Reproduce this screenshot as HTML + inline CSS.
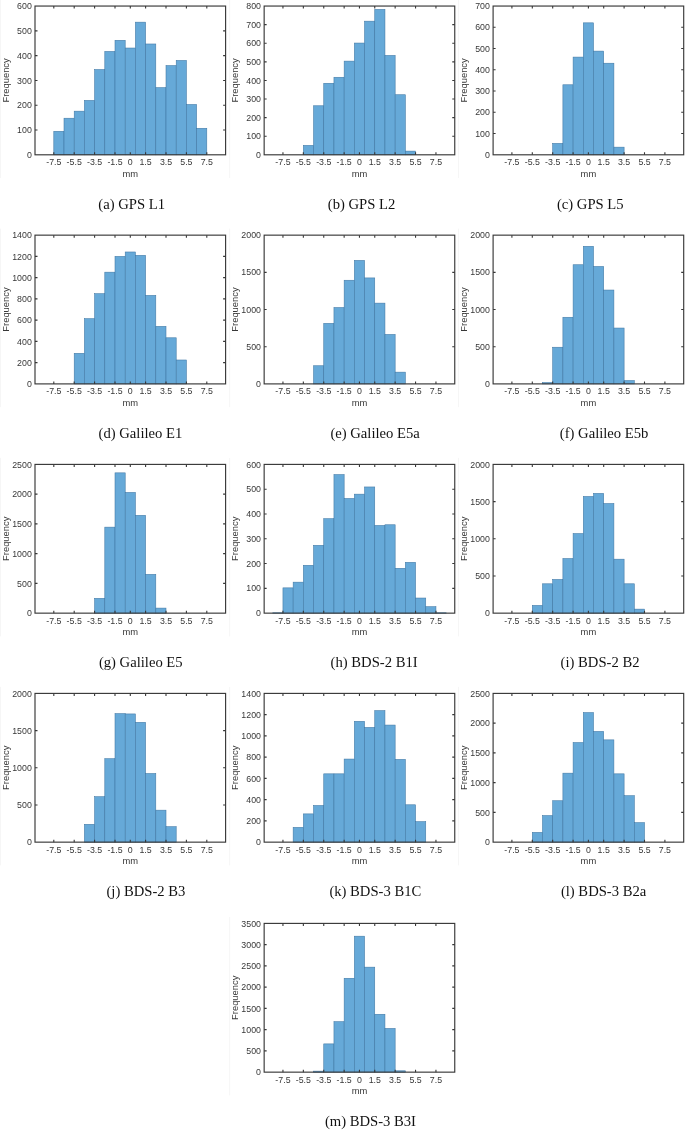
<!DOCTYPE html>
<html><head><meta charset="utf-8"><title>Histograms</title>
<style>html,body{margin:0;padding:0;background:#fff}body{width:685px;height:1146px;overflow:hidden;position:relative}svg{position:absolute;left:0;top:0;display:block;will-change:transform}text{font-family:"Liberation Sans",sans-serif}.cap{font-family:"Liberation Serif",serif}</style>
</head><body>
<svg width="685" height="1146" viewBox="0 0 685 1146">
<rect x="0" y="0" width="685" height="1146" fill="#ffffff"/>
<g id="chart-a">
<line x1="0.5" y1="0" x2="0.5" y2="178.05" stroke="#f6f6f6" stroke-width="1"/>
<rect x="53.8" y="131.3" width="10.2" height="23.5" fill="#66a9d8" stroke="#3f76a3" stroke-width="0.55"/>
<rect x="64" y="118.21" width="10.2" height="36.59" fill="#66a9d8" stroke="#3f76a3" stroke-width="0.55"/>
<rect x="74.2" y="111.17" width="10.2" height="43.63" fill="#66a9d8" stroke="#3f76a3" stroke-width="0.55"/>
<rect x="84.4" y="100.41" width="10.2" height="54.39" fill="#66a9d8" stroke="#3f76a3" stroke-width="0.55"/>
<rect x="94.6" y="69.52" width="10.2" height="85.28" fill="#66a9d8" stroke="#3f76a3" stroke-width="0.55"/>
<rect x="104.8" y="51.42" width="10.2" height="103.38" fill="#66a9d8" stroke="#3f76a3" stroke-width="0.55"/>
<rect x="115" y="40.29" width="10.2" height="114.51" fill="#66a9d8" stroke="#3f76a3" stroke-width="0.55"/>
<rect x="125.2" y="48.02" width="10.2" height="106.78" fill="#66a9d8" stroke="#3f76a3" stroke-width="0.55"/>
<rect x="135.4" y="22.16" width="10.2" height="132.64" fill="#66a9d8" stroke="#3f76a3" stroke-width="0.55"/>
<rect x="145.6" y="43.98" width="10.2" height="110.82" fill="#66a9d8" stroke="#3f76a3" stroke-width="0.55"/>
<rect x="155.8" y="87.61" width="10.2" height="67.19" fill="#66a9d8" stroke="#3f76a3" stroke-width="0.55"/>
<rect x="166" y="65.55" width="10.2" height="89.25" fill="#66a9d8" stroke="#3f76a3" stroke-width="0.55"/>
<rect x="176.2" y="60.44" width="10.2" height="94.36" fill="#66a9d8" stroke="#3f76a3" stroke-width="0.55"/>
<rect x="186.4" y="104.47" width="10.2" height="50.33" fill="#66a9d8" stroke="#3f76a3" stroke-width="0.55"/>
<rect x="196.6" y="128.27" width="10.2" height="26.53" fill="#66a9d8" stroke="#3f76a3" stroke-width="0.55"/>
<path d="M53.8 154.8v-2.5M53.8 6.05v2.5M74.2 154.8v-2.5M74.2 6.05v2.5M94.6 154.8v-2.5M94.6 6.05v2.5M115 154.8v-2.5M115 6.05v2.5M130.3 154.8v-2.5M130.3 6.05v2.5M145.6 154.8v-2.5M145.6 6.05v2.5M166 154.8v-2.5M166 6.05v2.5M186.4 154.8v-2.5M186.4 6.05v2.5M206.8 154.8v-2.5M206.8 6.05v2.5M35 130.01h2.5M225.6 130.01h-2.5M35 105.22h2.5M225.6 105.22h-2.5M35 80.43h2.5M225.6 80.43h-2.5M35 55.63h2.5M225.6 55.63h-2.5M35 30.84h2.5M225.6 30.84h-2.5" stroke="#383838" stroke-width="1.1" fill="none"/>
<rect x="35" y="6.05" width="190.6" height="148.75" fill="none" stroke="#383838" stroke-width="1.15"/>
<text x="31.8" y="157.9" font-size="8.8" fill="#383838" text-anchor="end">0</text>
<text x="31.8" y="133.11" font-size="8.8" fill="#383838" text-anchor="end">100</text>
<text x="31.8" y="108.32" font-size="8.8" fill="#383838" text-anchor="end">200</text>
<text x="31.8" y="83.53" font-size="8.8" fill="#383838" text-anchor="end">300</text>
<text x="31.8" y="58.73" font-size="8.8" fill="#383838" text-anchor="end">400</text>
<text x="31.8" y="33.94" font-size="8.8" fill="#383838" text-anchor="end">500</text>
<text x="31.8" y="9.15" font-size="8.8" fill="#383838" text-anchor="end">600</text>
<text x="53.8" y="165.35" font-size="8.8" fill="#383838" text-anchor="middle">-7.5</text>
<text x="74.2" y="165.35" font-size="8.8" fill="#383838" text-anchor="middle">-5.5</text>
<text x="94.6" y="165.35" font-size="8.8" fill="#383838" text-anchor="middle">-3.5</text>
<text x="115" y="165.35" font-size="8.8" fill="#383838" text-anchor="middle">-1.5</text>
<text x="130.3" y="165.35" font-size="8.8" fill="#383838" text-anchor="middle">0</text>
<text x="145.6" y="165.35" font-size="8.8" fill="#383838" text-anchor="middle">1.5</text>
<text x="166" y="165.35" font-size="8.8" fill="#383838" text-anchor="middle">3.5</text>
<text x="186.4" y="165.35" font-size="8.8" fill="#383838" text-anchor="middle">5.5</text>
<text x="206.8" y="165.35" font-size="8.8" fill="#383838" text-anchor="middle">7.5</text>
<text x="130.3" y="176.8" font-size="9.4" fill="#383838" text-anchor="middle">mm</text>
<text transform="translate(9 80.42) rotate(-90)" font-size="9.4" fill="#383838" text-anchor="middle">Frequency</text>
<text class="cap" x="131.7" y="209" font-size="14.65" fill="#111111" text-anchor="middle">(a) GPS L1</text>
</g>
<g id="chart-b">
<line x1="229.65" y1="-0.45" x2="229.65" y2="178.05" stroke="#f6f6f6" stroke-width="1"/>
<rect x="303.35" y="145.39" width="10.2" height="9.41" fill="#66a9d8" stroke="#3f76a3" stroke-width="0.55"/>
<rect x="313.55" y="105.77" width="10.2" height="49.03" fill="#66a9d8" stroke="#3f76a3" stroke-width="0.55"/>
<rect x="323.75" y="83.27" width="10.2" height="71.53" fill="#66a9d8" stroke="#3f76a3" stroke-width="0.55"/>
<rect x="333.95" y="77.26" width="10.2" height="77.54" fill="#66a9d8" stroke="#3f76a3" stroke-width="0.55"/>
<rect x="344.15" y="61.12" width="10.2" height="93.68" fill="#66a9d8" stroke="#3f76a3" stroke-width="0.55"/>
<rect x="354.35" y="43.05" width="10.2" height="111.75" fill="#66a9d8" stroke="#3f76a3" stroke-width="0.55"/>
<rect x="364.55" y="21.17" width="10.2" height="133.63" fill="#66a9d8" stroke="#3f76a3" stroke-width="0.55"/>
<rect x="374.75" y="9.4" width="10.2" height="145.4" fill="#66a9d8" stroke="#3f76a3" stroke-width="0.55"/>
<rect x="384.95" y="55.42" width="10.2" height="99.38" fill="#66a9d8" stroke="#3f76a3" stroke-width="0.55"/>
<rect x="395.15" y="94.74" width="10.2" height="60.06" fill="#66a9d8" stroke="#3f76a3" stroke-width="0.55"/>
<rect x="405.35" y="151.1" width="10.2" height="3.7" fill="#66a9d8" stroke="#3f76a3" stroke-width="0.55"/>
<path d="M282.95 154.8v-2.5M282.95 6.05v2.5M303.35 154.8v-2.5M303.35 6.05v2.5M323.75 154.8v-2.5M323.75 6.05v2.5M344.15 154.8v-2.5M344.15 6.05v2.5M359.45 154.8v-2.5M359.45 6.05v2.5M374.75 154.8v-2.5M374.75 6.05v2.5M395.15 154.8v-2.5M395.15 6.05v2.5M415.55 154.8v-2.5M415.55 6.05v2.5M435.95 154.8v-2.5M435.95 6.05v2.5M264.15 136.21h2.5M454.75 136.21h-2.5M264.15 117.61h2.5M454.75 117.61h-2.5M264.15 99.02h2.5M454.75 99.02h-2.5M264.15 80.43h2.5M454.75 80.43h-2.5M264.15 61.83h2.5M454.75 61.83h-2.5M264.15 43.24h2.5M454.75 43.24h-2.5M264.15 24.64h2.5M454.75 24.64h-2.5" stroke="#383838" stroke-width="1.1" fill="none"/>
<rect x="264.15" y="6.05" width="190.6" height="148.75" fill="none" stroke="#383838" stroke-width="1.15"/>
<text x="260.95" y="157.9" font-size="8.8" fill="#383838" text-anchor="end">0</text>
<text x="260.95" y="139.31" font-size="8.8" fill="#383838" text-anchor="end">100</text>
<text x="260.95" y="120.71" font-size="8.8" fill="#383838" text-anchor="end">200</text>
<text x="260.95" y="102.12" font-size="8.8" fill="#383838" text-anchor="end">300</text>
<text x="260.95" y="83.53" font-size="8.8" fill="#383838" text-anchor="end">400</text>
<text x="260.95" y="64.93" font-size="8.8" fill="#383838" text-anchor="end">500</text>
<text x="260.95" y="46.34" font-size="8.8" fill="#383838" text-anchor="end">600</text>
<text x="260.95" y="27.74" font-size="8.8" fill="#383838" text-anchor="end">700</text>
<text x="260.95" y="9.15" font-size="8.8" fill="#383838" text-anchor="end">800</text>
<text x="282.95" y="165.35" font-size="8.8" fill="#383838" text-anchor="middle">-7.5</text>
<text x="303.35" y="165.35" font-size="8.8" fill="#383838" text-anchor="middle">-5.5</text>
<text x="323.75" y="165.35" font-size="8.8" fill="#383838" text-anchor="middle">-3.5</text>
<text x="344.15" y="165.35" font-size="8.8" fill="#383838" text-anchor="middle">-1.5</text>
<text x="359.45" y="165.35" font-size="8.8" fill="#383838" text-anchor="middle">0</text>
<text x="374.75" y="165.35" font-size="8.8" fill="#383838" text-anchor="middle">1.5</text>
<text x="395.15" y="165.35" font-size="8.8" fill="#383838" text-anchor="middle">3.5</text>
<text x="415.55" y="165.35" font-size="8.8" fill="#383838" text-anchor="middle">5.5</text>
<text x="435.95" y="165.35" font-size="8.8" fill="#383838" text-anchor="middle">7.5</text>
<text x="359.45" y="176.8" font-size="9.4" fill="#383838" text-anchor="middle">mm</text>
<text transform="translate(238.15 80.42) rotate(-90)" font-size="9.4" fill="#383838" text-anchor="middle">Frequency</text>
<text class="cap" x="361.55" y="209" font-size="14.65" fill="#111111" text-anchor="middle">(b) GPS L2</text>
</g>
<g id="chart-c">
<line x1="458.6" y1="-0.45" x2="458.6" y2="178.05" stroke="#f6f6f6" stroke-width="1"/>
<rect x="552.7" y="143.39" width="10.2" height="11.41" fill="#66a9d8" stroke="#3f76a3" stroke-width="0.55"/>
<rect x="562.9" y="84.78" width="10.2" height="70.02" fill="#66a9d8" stroke="#3f76a3" stroke-width="0.55"/>
<rect x="573.1" y="57.09" width="10.2" height="97.71" fill="#66a9d8" stroke="#3f76a3" stroke-width="0.55"/>
<rect x="583.3" y="22.84" width="10.2" height="131.96" fill="#66a9d8" stroke="#3f76a3" stroke-width="0.55"/>
<rect x="593.5" y="51.1" width="10.2" height="103.7" fill="#66a9d8" stroke="#3f76a3" stroke-width="0.55"/>
<rect x="603.7" y="63.21" width="10.2" height="91.59" fill="#66a9d8" stroke="#3f76a3" stroke-width="0.55"/>
<rect x="613.9" y="147.15" width="10.2" height="7.65" fill="#66a9d8" stroke="#3f76a3" stroke-width="0.55"/>
<path d="M511.9 154.8v-2.5M511.9 6.05v2.5M532.3 154.8v-2.5M532.3 6.05v2.5M552.7 154.8v-2.5M552.7 6.05v2.5M573.1 154.8v-2.5M573.1 6.05v2.5M588.4 154.8v-2.5M588.4 6.05v2.5M603.7 154.8v-2.5M603.7 6.05v2.5M624.1 154.8v-2.5M624.1 6.05v2.5M644.5 154.8v-2.5M644.5 6.05v2.5M664.9 154.8v-2.5M664.9 6.05v2.5M493.1 133.55h2.5M683.7 133.55h-2.5M493.1 112.3h2.5M683.7 112.3h-2.5M493.1 91.05h2.5M683.7 91.05h-2.5M493.1 69.8h2.5M683.7 69.8h-2.5M493.1 48.55h2.5M683.7 48.55h-2.5M493.1 27.3h2.5M683.7 27.3h-2.5" stroke="#383838" stroke-width="1.1" fill="none"/>
<rect x="493.1" y="6.05" width="190.6" height="148.75" fill="none" stroke="#383838" stroke-width="1.15"/>
<text x="489.9" y="157.9" font-size="8.8" fill="#383838" text-anchor="end">0</text>
<text x="489.9" y="136.65" font-size="8.8" fill="#383838" text-anchor="end">100</text>
<text x="489.9" y="115.4" font-size="8.8" fill="#383838" text-anchor="end">200</text>
<text x="489.9" y="94.15" font-size="8.8" fill="#383838" text-anchor="end">300</text>
<text x="489.9" y="72.9" font-size="8.8" fill="#383838" text-anchor="end">400</text>
<text x="489.9" y="51.65" font-size="8.8" fill="#383838" text-anchor="end">500</text>
<text x="489.9" y="30.4" font-size="8.8" fill="#383838" text-anchor="end">600</text>
<text x="489.9" y="9.15" font-size="8.8" fill="#383838" text-anchor="end">700</text>
<text x="511.9" y="165.35" font-size="8.8" fill="#383838" text-anchor="middle">-7.5</text>
<text x="532.3" y="165.35" font-size="8.8" fill="#383838" text-anchor="middle">-5.5</text>
<text x="552.7" y="165.35" font-size="8.8" fill="#383838" text-anchor="middle">-3.5</text>
<text x="573.1" y="165.35" font-size="8.8" fill="#383838" text-anchor="middle">-1.5</text>
<text x="588.4" y="165.35" font-size="8.8" fill="#383838" text-anchor="middle">0</text>
<text x="603.7" y="165.35" font-size="8.8" fill="#383838" text-anchor="middle">1.5</text>
<text x="624.1" y="165.35" font-size="8.8" fill="#383838" text-anchor="middle">3.5</text>
<text x="644.5" y="165.35" font-size="8.8" fill="#383838" text-anchor="middle">5.5</text>
<text x="664.9" y="165.35" font-size="8.8" fill="#383838" text-anchor="middle">7.5</text>
<text x="588.4" y="176.8" font-size="9.4" fill="#383838" text-anchor="middle">mm</text>
<text transform="translate(467.1 80.42) rotate(-90)" font-size="9.4" fill="#383838" text-anchor="middle">Frequency</text>
<text class="cap" x="590.3" y="209" font-size="14.65" fill="#111111" text-anchor="middle">(c) GPS L5</text>
</g>
<g id="chart-d">
<line x1="0.5" y1="228.65" x2="0.5" y2="407.15" stroke="#f6f6f6" stroke-width="1"/>
<rect x="74.2" y="353.3" width="10.2" height="30.6" fill="#66a9d8" stroke="#3f76a3" stroke-width="0.55"/>
<rect x="84.4" y="318.66" width="10.2" height="65.24" fill="#66a9d8" stroke="#3f76a3" stroke-width="0.55"/>
<rect x="94.6" y="293.69" width="10.2" height="90.21" fill="#66a9d8" stroke="#3f76a3" stroke-width="0.55"/>
<rect x="104.8" y="272.17" width="10.2" height="111.73" fill="#66a9d8" stroke="#3f76a3" stroke-width="0.55"/>
<rect x="115" y="256.4" width="10.2" height="127.5" fill="#66a9d8" stroke="#3f76a3" stroke-width="0.55"/>
<rect x="125.2" y="251.98" width="10.2" height="131.92" fill="#66a9d8" stroke="#3f76a3" stroke-width="0.55"/>
<rect x="135.4" y="255.34" width="10.2" height="128.56" fill="#66a9d8" stroke="#3f76a3" stroke-width="0.55"/>
<rect x="145.6" y="295.39" width="10.2" height="88.51" fill="#66a9d8" stroke="#3f76a3" stroke-width="0.55"/>
<rect x="155.8" y="326.35" width="10.2" height="57.55" fill="#66a9d8" stroke="#3f76a3" stroke-width="0.55"/>
<rect x="166" y="337.79" width="10.2" height="46.11" fill="#66a9d8" stroke="#3f76a3" stroke-width="0.55"/>
<rect x="176.2" y="359.99" width="10.2" height="23.91" fill="#66a9d8" stroke="#3f76a3" stroke-width="0.55"/>
<path d="M53.8 383.9v-2.5M53.8 235.15v2.5M74.2 383.9v-2.5M74.2 235.15v2.5M94.6 383.9v-2.5M94.6 235.15v2.5M115 383.9v-2.5M115 235.15v2.5M130.3 383.9v-2.5M130.3 235.15v2.5M145.6 383.9v-2.5M145.6 235.15v2.5M166 383.9v-2.5M166 235.15v2.5M186.4 383.9v-2.5M186.4 235.15v2.5M206.8 383.9v-2.5M206.8 235.15v2.5M35 362.65h2.5M225.6 362.65h-2.5M35 341.4h2.5M225.6 341.4h-2.5M35 320.15h2.5M225.6 320.15h-2.5M35 298.9h2.5M225.6 298.9h-2.5M35 277.65h2.5M225.6 277.65h-2.5M35 256.4h2.5M225.6 256.4h-2.5" stroke="#383838" stroke-width="1.1" fill="none"/>
<rect x="35" y="235.15" width="190.6" height="148.75" fill="none" stroke="#383838" stroke-width="1.15"/>
<text x="31.8" y="387" font-size="8.8" fill="#383838" text-anchor="end">0</text>
<text x="31.8" y="365.75" font-size="8.8" fill="#383838" text-anchor="end">200</text>
<text x="31.8" y="344.5" font-size="8.8" fill="#383838" text-anchor="end">400</text>
<text x="31.8" y="323.25" font-size="8.8" fill="#383838" text-anchor="end">600</text>
<text x="31.8" y="302" font-size="8.8" fill="#383838" text-anchor="end">800</text>
<text x="31.8" y="280.75" font-size="8.8" fill="#383838" text-anchor="end">1000</text>
<text x="31.8" y="259.5" font-size="8.8" fill="#383838" text-anchor="end">1200</text>
<text x="31.8" y="238.25" font-size="8.8" fill="#383838" text-anchor="end">1400</text>
<text x="53.8" y="394.45" font-size="8.8" fill="#383838" text-anchor="middle">-7.5</text>
<text x="74.2" y="394.45" font-size="8.8" fill="#383838" text-anchor="middle">-5.5</text>
<text x="94.6" y="394.45" font-size="8.8" fill="#383838" text-anchor="middle">-3.5</text>
<text x="115" y="394.45" font-size="8.8" fill="#383838" text-anchor="middle">-1.5</text>
<text x="130.3" y="394.45" font-size="8.8" fill="#383838" text-anchor="middle">0</text>
<text x="145.6" y="394.45" font-size="8.8" fill="#383838" text-anchor="middle">1.5</text>
<text x="166" y="394.45" font-size="8.8" fill="#383838" text-anchor="middle">3.5</text>
<text x="186.4" y="394.45" font-size="8.8" fill="#383838" text-anchor="middle">5.5</text>
<text x="206.8" y="394.45" font-size="8.8" fill="#383838" text-anchor="middle">7.5</text>
<text x="130.3" y="405.9" font-size="9.4" fill="#383838" text-anchor="middle">mm</text>
<text transform="translate(9 309.52) rotate(-90)" font-size="9.4" fill="#383838" text-anchor="middle">Frequency</text>
<text class="cap" x="140.45" y="438.3" font-size="14.65" fill="#111111" text-anchor="middle">(d) Galileo E1</text>
</g>
<g id="chart-e">
<line x1="229.65" y1="228.65" x2="229.65" y2="407.15" stroke="#f6f6f6" stroke-width="1"/>
<rect x="313.55" y="365.75" width="10.2" height="18.15" fill="#66a9d8" stroke="#3f76a3" stroke-width="0.55"/>
<rect x="323.75" y="323.36" width="10.2" height="60.54" fill="#66a9d8" stroke="#3f76a3" stroke-width="0.55"/>
<rect x="333.95" y="307.52" width="10.2" height="76.38" fill="#66a9d8" stroke="#3f76a3" stroke-width="0.55"/>
<rect x="344.15" y="280.24" width="10.2" height="103.66" fill="#66a9d8" stroke="#3f76a3" stroke-width="0.55"/>
<rect x="354.35" y="260.39" width="10.2" height="123.51" fill="#66a9d8" stroke="#3f76a3" stroke-width="0.55"/>
<rect x="364.55" y="277.92" width="10.2" height="105.98" fill="#66a9d8" stroke="#3f76a3" stroke-width="0.55"/>
<rect x="374.75" y="303.13" width="10.2" height="80.77" fill="#66a9d8" stroke="#3f76a3" stroke-width="0.55"/>
<rect x="384.95" y="334.44" width="10.2" height="49.46" fill="#66a9d8" stroke="#3f76a3" stroke-width="0.55"/>
<rect x="395.15" y="372.15" width="10.2" height="11.75" fill="#66a9d8" stroke="#3f76a3" stroke-width="0.55"/>
<path d="M282.95 383.9v-2.5M282.95 235.15v2.5M303.35 383.9v-2.5M303.35 235.15v2.5M323.75 383.9v-2.5M323.75 235.15v2.5M344.15 383.9v-2.5M344.15 235.15v2.5M359.45 383.9v-2.5M359.45 235.15v2.5M374.75 383.9v-2.5M374.75 235.15v2.5M395.15 383.9v-2.5M395.15 235.15v2.5M415.55 383.9v-2.5M415.55 235.15v2.5M435.95 383.9v-2.5M435.95 235.15v2.5M264.15 346.71h2.5M454.75 346.71h-2.5M264.15 309.52h2.5M454.75 309.52h-2.5M264.15 272.34h2.5M454.75 272.34h-2.5" stroke="#383838" stroke-width="1.1" fill="none"/>
<rect x="264.15" y="235.15" width="190.6" height="148.75" fill="none" stroke="#383838" stroke-width="1.15"/>
<text x="260.95" y="387" font-size="8.8" fill="#383838" text-anchor="end">0</text>
<text x="260.95" y="349.81" font-size="8.8" fill="#383838" text-anchor="end">500</text>
<text x="260.95" y="312.62" font-size="8.8" fill="#383838" text-anchor="end">1000</text>
<text x="260.95" y="275.44" font-size="8.8" fill="#383838" text-anchor="end">1500</text>
<text x="260.95" y="238.25" font-size="8.8" fill="#383838" text-anchor="end">2000</text>
<text x="282.95" y="394.45" font-size="8.8" fill="#383838" text-anchor="middle">-7.5</text>
<text x="303.35" y="394.45" font-size="8.8" fill="#383838" text-anchor="middle">-5.5</text>
<text x="323.75" y="394.45" font-size="8.8" fill="#383838" text-anchor="middle">-3.5</text>
<text x="344.15" y="394.45" font-size="8.8" fill="#383838" text-anchor="middle">-1.5</text>
<text x="359.45" y="394.45" font-size="8.8" fill="#383838" text-anchor="middle">0</text>
<text x="374.75" y="394.45" font-size="8.8" fill="#383838" text-anchor="middle">1.5</text>
<text x="395.15" y="394.45" font-size="8.8" fill="#383838" text-anchor="middle">3.5</text>
<text x="415.55" y="394.45" font-size="8.8" fill="#383838" text-anchor="middle">5.5</text>
<text x="435.95" y="394.45" font-size="8.8" fill="#383838" text-anchor="middle">7.5</text>
<text x="359.45" y="405.9" font-size="9.4" fill="#383838" text-anchor="middle">mm</text>
<text transform="translate(238.15 309.52) rotate(-90)" font-size="9.4" fill="#383838" text-anchor="middle">Frequency</text>
<text class="cap" x="375.1" y="438.3" font-size="14.65" fill="#111111" text-anchor="middle">(e) Galileo E5a</text>
</g>
<g id="chart-f">
<line x1="458.6" y1="228.65" x2="458.6" y2="407.15" stroke="#f6f6f6" stroke-width="1"/>
<rect x="542.5" y="382.56" width="10.2" height="1.34" fill="#66a9d8" stroke="#3f76a3" stroke-width="0.55"/>
<rect x="552.7" y="347.23" width="10.2" height="36.67" fill="#66a9d8" stroke="#3f76a3" stroke-width="0.55"/>
<rect x="562.9" y="317.26" width="10.2" height="66.64" fill="#66a9d8" stroke="#3f76a3" stroke-width="0.55"/>
<rect x="573.1" y="264.75" width="10.2" height="119.15" fill="#66a9d8" stroke="#3f76a3" stroke-width="0.55"/>
<rect x="583.3" y="246.31" width="10.2" height="137.59" fill="#66a9d8" stroke="#3f76a3" stroke-width="0.55"/>
<rect x="593.5" y="266.46" width="10.2" height="117.44" fill="#66a9d8" stroke="#3f76a3" stroke-width="0.55"/>
<rect x="603.7" y="290.04" width="10.2" height="93.86" fill="#66a9d8" stroke="#3f76a3" stroke-width="0.55"/>
<rect x="613.9" y="328.04" width="10.2" height="55.86" fill="#66a9d8" stroke="#3f76a3" stroke-width="0.55"/>
<rect x="624.1" y="380.55" width="10.2" height="3.35" fill="#66a9d8" stroke="#3f76a3" stroke-width="0.55"/>
<path d="M511.9 383.9v-2.5M511.9 235.15v2.5M532.3 383.9v-2.5M532.3 235.15v2.5M552.7 383.9v-2.5M552.7 235.15v2.5M573.1 383.9v-2.5M573.1 235.15v2.5M588.4 383.9v-2.5M588.4 235.15v2.5M603.7 383.9v-2.5M603.7 235.15v2.5M624.1 383.9v-2.5M624.1 235.15v2.5M644.5 383.9v-2.5M644.5 235.15v2.5M664.9 383.9v-2.5M664.9 235.15v2.5M493.1 346.71h2.5M683.7 346.71h-2.5M493.1 309.52h2.5M683.7 309.52h-2.5M493.1 272.34h2.5M683.7 272.34h-2.5" stroke="#383838" stroke-width="1.1" fill="none"/>
<rect x="493.1" y="235.15" width="190.6" height="148.75" fill="none" stroke="#383838" stroke-width="1.15"/>
<text x="489.9" y="387" font-size="8.8" fill="#383838" text-anchor="end">0</text>
<text x="489.9" y="349.81" font-size="8.8" fill="#383838" text-anchor="end">500</text>
<text x="489.9" y="312.62" font-size="8.8" fill="#383838" text-anchor="end">1000</text>
<text x="489.9" y="275.44" font-size="8.8" fill="#383838" text-anchor="end">1500</text>
<text x="489.9" y="238.25" font-size="8.8" fill="#383838" text-anchor="end">2000</text>
<text x="511.9" y="394.45" font-size="8.8" fill="#383838" text-anchor="middle">-7.5</text>
<text x="532.3" y="394.45" font-size="8.8" fill="#383838" text-anchor="middle">-5.5</text>
<text x="552.7" y="394.45" font-size="8.8" fill="#383838" text-anchor="middle">-3.5</text>
<text x="573.1" y="394.45" font-size="8.8" fill="#383838" text-anchor="middle">-1.5</text>
<text x="588.4" y="394.45" font-size="8.8" fill="#383838" text-anchor="middle">0</text>
<text x="603.7" y="394.45" font-size="8.8" fill="#383838" text-anchor="middle">1.5</text>
<text x="624.1" y="394.45" font-size="8.8" fill="#383838" text-anchor="middle">3.5</text>
<text x="644.5" y="394.45" font-size="8.8" fill="#383838" text-anchor="middle">5.5</text>
<text x="664.9" y="394.45" font-size="8.8" fill="#383838" text-anchor="middle">7.5</text>
<text x="588.4" y="405.9" font-size="9.4" fill="#383838" text-anchor="middle">mm</text>
<text transform="translate(467.1 309.52) rotate(-90)" font-size="9.4" fill="#383838" text-anchor="middle">Frequency</text>
<text class="cap" x="604.1" y="438.3" font-size="14.65" fill="#111111" text-anchor="middle">(f) Galileo E5b</text>
</g>
<g id="chart-g">
<line x1="0.5" y1="457.9" x2="0.5" y2="636.4" stroke="#f6f6f6" stroke-width="1"/>
<rect x="94.6" y="598.33" width="10.2" height="14.82" fill="#66a9d8" stroke="#3f76a3" stroke-width="0.55"/>
<rect x="104.8" y="527.14" width="10.2" height="86.01" fill="#66a9d8" stroke="#3f76a3" stroke-width="0.55"/>
<rect x="115" y="472.85" width="10.2" height="140.3" fill="#66a9d8" stroke="#3f76a3" stroke-width="0.55"/>
<rect x="125.2" y="492.42" width="10.2" height="120.73" fill="#66a9d8" stroke="#3f76a3" stroke-width="0.55"/>
<rect x="135.4" y="515.33" width="10.2" height="97.82" fill="#66a9d8" stroke="#3f76a3" stroke-width="0.55"/>
<rect x="145.6" y="574.36" width="10.2" height="38.79" fill="#66a9d8" stroke="#3f76a3" stroke-width="0.55"/>
<rect x="155.8" y="608.09" width="10.2" height="5.06" fill="#66a9d8" stroke="#3f76a3" stroke-width="0.55"/>
<path d="M53.8 613.15v-2.5M53.8 464.4v2.5M74.2 613.15v-2.5M74.2 464.4v2.5M94.6 613.15v-2.5M94.6 464.4v2.5M115 613.15v-2.5M115 464.4v2.5M130.3 613.15v-2.5M130.3 464.4v2.5M145.6 613.15v-2.5M145.6 464.4v2.5M166 613.15v-2.5M166 464.4v2.5M186.4 613.15v-2.5M186.4 464.4v2.5M206.8 613.15v-2.5M206.8 464.4v2.5M35 583.4h2.5M225.6 583.4h-2.5M35 553.65h2.5M225.6 553.65h-2.5M35 523.9h2.5M225.6 523.9h-2.5M35 494.15h2.5M225.6 494.15h-2.5" stroke="#383838" stroke-width="1.1" fill="none"/>
<rect x="35" y="464.4" width="190.6" height="148.75" fill="none" stroke="#383838" stroke-width="1.15"/>
<text x="31.8" y="616.25" font-size="8.8" fill="#383838" text-anchor="end">0</text>
<text x="31.8" y="586.5" font-size="8.8" fill="#383838" text-anchor="end">500</text>
<text x="31.8" y="556.75" font-size="8.8" fill="#383838" text-anchor="end">1000</text>
<text x="31.8" y="527" font-size="8.8" fill="#383838" text-anchor="end">1500</text>
<text x="31.8" y="497.25" font-size="8.8" fill="#383838" text-anchor="end">2000</text>
<text x="31.8" y="467.5" font-size="8.8" fill="#383838" text-anchor="end">2500</text>
<text x="53.8" y="623.7" font-size="8.8" fill="#383838" text-anchor="middle">-7.5</text>
<text x="74.2" y="623.7" font-size="8.8" fill="#383838" text-anchor="middle">-5.5</text>
<text x="94.6" y="623.7" font-size="8.8" fill="#383838" text-anchor="middle">-3.5</text>
<text x="115" y="623.7" font-size="8.8" fill="#383838" text-anchor="middle">-1.5</text>
<text x="130.3" y="623.7" font-size="8.8" fill="#383838" text-anchor="middle">0</text>
<text x="145.6" y="623.7" font-size="8.8" fill="#383838" text-anchor="middle">1.5</text>
<text x="166" y="623.7" font-size="8.8" fill="#383838" text-anchor="middle">3.5</text>
<text x="186.4" y="623.7" font-size="8.8" fill="#383838" text-anchor="middle">5.5</text>
<text x="206.8" y="623.7" font-size="8.8" fill="#383838" text-anchor="middle">7.5</text>
<text x="130.3" y="635.15" font-size="9.4" fill="#383838" text-anchor="middle">mm</text>
<text transform="translate(9 538.77) rotate(-90)" font-size="9.4" fill="#383838" text-anchor="middle">Frequency</text>
<text class="cap" x="140.75" y="667.4" font-size="14.65" fill="#111111" text-anchor="middle">(g) Galileo E5</text>
</g>
<g id="chart-h">
<line x1="229.65" y1="457.9" x2="229.65" y2="636.4" stroke="#f6f6f6" stroke-width="1"/>
<rect x="272.75" y="612.78" width="10.2" height="0.37" fill="#66a9d8" stroke="#3f76a3" stroke-width="0.55"/>
<rect x="282.95" y="587.86" width="10.2" height="25.29" fill="#66a9d8" stroke="#3f76a3" stroke-width="0.55"/>
<rect x="293.15" y="582.16" width="10.2" height="30.99" fill="#66a9d8" stroke="#3f76a3" stroke-width="0.55"/>
<rect x="303.35" y="565.3" width="10.2" height="47.85" fill="#66a9d8" stroke="#3f76a3" stroke-width="0.55"/>
<rect x="313.55" y="545.34" width="10.2" height="67.81" fill="#66a9d8" stroke="#3f76a3" stroke-width="0.55"/>
<rect x="323.75" y="518.69" width="10.2" height="94.46" fill="#66a9d8" stroke="#3f76a3" stroke-width="0.55"/>
<rect x="333.95" y="474.56" width="10.2" height="138.59" fill="#66a9d8" stroke="#3f76a3" stroke-width="0.55"/>
<rect x="344.15" y="498.46" width="10.2" height="114.69" fill="#66a9d8" stroke="#3f76a3" stroke-width="0.55"/>
<rect x="354.35" y="494.15" width="10.2" height="119" fill="#66a9d8" stroke="#3f76a3" stroke-width="0.55"/>
<rect x="364.55" y="486.96" width="10.2" height="126.19" fill="#66a9d8" stroke="#3f76a3" stroke-width="0.55"/>
<rect x="374.75" y="525.46" width="10.2" height="87.69" fill="#66a9d8" stroke="#3f76a3" stroke-width="0.55"/>
<rect x="384.95" y="524.77" width="10.2" height="88.38" fill="#66a9d8" stroke="#3f76a3" stroke-width="0.55"/>
<rect x="395.15" y="568.28" width="10.2" height="44.87" fill="#66a9d8" stroke="#3f76a3" stroke-width="0.55"/>
<rect x="405.35" y="562.33" width="10.2" height="50.82" fill="#66a9d8" stroke="#3f76a3" stroke-width="0.55"/>
<rect x="415.55" y="598.03" width="10.2" height="15.12" fill="#66a9d8" stroke="#3f76a3" stroke-width="0.55"/>
<rect x="425.75" y="606.7" width="10.2" height="6.45" fill="#66a9d8" stroke="#3f76a3" stroke-width="0.55"/>
<rect x="435.95" y="612.78" width="10.2" height="0.37" fill="#66a9d8" stroke="#3f76a3" stroke-width="0.55"/>
<path d="M282.95 613.15v-2.5M282.95 464.4v2.5M303.35 613.15v-2.5M303.35 464.4v2.5M323.75 613.15v-2.5M323.75 464.4v2.5M344.15 613.15v-2.5M344.15 464.4v2.5M359.45 613.15v-2.5M359.45 464.4v2.5M374.75 613.15v-2.5M374.75 464.4v2.5M395.15 613.15v-2.5M395.15 464.4v2.5M415.55 613.15v-2.5M415.55 464.4v2.5M435.95 613.15v-2.5M435.95 464.4v2.5M264.15 588.36h2.5M454.75 588.36h-2.5M264.15 563.57h2.5M454.75 563.57h-2.5M264.15 538.77h2.5M454.75 538.77h-2.5M264.15 513.98h2.5M454.75 513.98h-2.5M264.15 489.19h2.5M454.75 489.19h-2.5" stroke="#383838" stroke-width="1.1" fill="none"/>
<rect x="264.15" y="464.4" width="190.6" height="148.75" fill="none" stroke="#383838" stroke-width="1.15"/>
<text x="260.95" y="616.25" font-size="8.8" fill="#383838" text-anchor="end">0</text>
<text x="260.95" y="591.46" font-size="8.8" fill="#383838" text-anchor="end">100</text>
<text x="260.95" y="566.67" font-size="8.8" fill="#383838" text-anchor="end">200</text>
<text x="260.95" y="541.88" font-size="8.8" fill="#383838" text-anchor="end">300</text>
<text x="260.95" y="517.08" font-size="8.8" fill="#383838" text-anchor="end">400</text>
<text x="260.95" y="492.29" font-size="8.8" fill="#383838" text-anchor="end">500</text>
<text x="260.95" y="467.5" font-size="8.8" fill="#383838" text-anchor="end">600</text>
<text x="282.95" y="623.7" font-size="8.8" fill="#383838" text-anchor="middle">-7.5</text>
<text x="303.35" y="623.7" font-size="8.8" fill="#383838" text-anchor="middle">-5.5</text>
<text x="323.75" y="623.7" font-size="8.8" fill="#383838" text-anchor="middle">-3.5</text>
<text x="344.15" y="623.7" font-size="8.8" fill="#383838" text-anchor="middle">-1.5</text>
<text x="359.45" y="623.7" font-size="8.8" fill="#383838" text-anchor="middle">0</text>
<text x="374.75" y="623.7" font-size="8.8" fill="#383838" text-anchor="middle">1.5</text>
<text x="395.15" y="623.7" font-size="8.8" fill="#383838" text-anchor="middle">3.5</text>
<text x="415.55" y="623.7" font-size="8.8" fill="#383838" text-anchor="middle">5.5</text>
<text x="435.95" y="623.7" font-size="8.8" fill="#383838" text-anchor="middle">7.5</text>
<text x="359.45" y="635.15" font-size="9.4" fill="#383838" text-anchor="middle">mm</text>
<text transform="translate(238.15 538.77) rotate(-90)" font-size="9.4" fill="#383838" text-anchor="middle">Frequency</text>
<text class="cap" x="374.1" y="667.4" font-size="14.65" fill="#111111" text-anchor="middle">(h) BDS-2 B1I</text>
</g>
<g id="chart-i">
<line x1="458.6" y1="457.9" x2="458.6" y2="636.4" stroke="#f6f6f6" stroke-width="1"/>
<rect x="532.3" y="605.41" width="10.2" height="7.73" fill="#66a9d8" stroke="#3f76a3" stroke-width="0.55"/>
<rect x="542.5" y="583.8" width="10.2" height="29.35" fill="#66a9d8" stroke="#3f76a3" stroke-width="0.55"/>
<rect x="552.7" y="579.42" width="10.2" height="33.73" fill="#66a9d8" stroke="#3f76a3" stroke-width="0.55"/>
<rect x="562.9" y="558.51" width="10.2" height="54.64" fill="#66a9d8" stroke="#3f76a3" stroke-width="0.55"/>
<rect x="573.1" y="533.57" width="10.2" height="79.58" fill="#66a9d8" stroke="#3f76a3" stroke-width="0.55"/>
<rect x="583.3" y="496.46" width="10.2" height="116.69" fill="#66a9d8" stroke="#3f76a3" stroke-width="0.55"/>
<rect x="593.5" y="493.41" width="10.2" height="119.74" fill="#66a9d8" stroke="#3f76a3" stroke-width="0.55"/>
<rect x="603.7" y="503.52" width="10.2" height="109.63" fill="#66a9d8" stroke="#3f76a3" stroke-width="0.55"/>
<rect x="613.9" y="559.18" width="10.2" height="53.97" fill="#66a9d8" stroke="#3f76a3" stroke-width="0.55"/>
<rect x="624.1" y="583.8" width="10.2" height="29.35" fill="#66a9d8" stroke="#3f76a3" stroke-width="0.55"/>
<rect x="634.3" y="609.13" width="10.2" height="4.02" fill="#66a9d8" stroke="#3f76a3" stroke-width="0.55"/>
<path d="M511.9 613.15v-2.5M511.9 464.4v2.5M532.3 613.15v-2.5M532.3 464.4v2.5M552.7 613.15v-2.5M552.7 464.4v2.5M573.1 613.15v-2.5M573.1 464.4v2.5M588.4 613.15v-2.5M588.4 464.4v2.5M603.7 613.15v-2.5M603.7 464.4v2.5M624.1 613.15v-2.5M624.1 464.4v2.5M644.5 613.15v-2.5M644.5 464.4v2.5M664.9 613.15v-2.5M664.9 464.4v2.5M493.1 575.96h2.5M683.7 575.96h-2.5M493.1 538.77h2.5M683.7 538.77h-2.5M493.1 501.59h2.5M683.7 501.59h-2.5" stroke="#383838" stroke-width="1.1" fill="none"/>
<rect x="493.1" y="464.4" width="190.6" height="148.75" fill="none" stroke="#383838" stroke-width="1.15"/>
<text x="489.9" y="616.25" font-size="8.8" fill="#383838" text-anchor="end">0</text>
<text x="489.9" y="579.06" font-size="8.8" fill="#383838" text-anchor="end">500</text>
<text x="489.9" y="541.88" font-size="8.8" fill="#383838" text-anchor="end">1000</text>
<text x="489.9" y="504.69" font-size="8.8" fill="#383838" text-anchor="end">1500</text>
<text x="489.9" y="467.5" font-size="8.8" fill="#383838" text-anchor="end">2000</text>
<text x="511.9" y="623.7" font-size="8.8" fill="#383838" text-anchor="middle">-7.5</text>
<text x="532.3" y="623.7" font-size="8.8" fill="#383838" text-anchor="middle">-5.5</text>
<text x="552.7" y="623.7" font-size="8.8" fill="#383838" text-anchor="middle">-3.5</text>
<text x="573.1" y="623.7" font-size="8.8" fill="#383838" text-anchor="middle">-1.5</text>
<text x="588.4" y="623.7" font-size="8.8" fill="#383838" text-anchor="middle">0</text>
<text x="603.7" y="623.7" font-size="8.8" fill="#383838" text-anchor="middle">1.5</text>
<text x="624.1" y="623.7" font-size="8.8" fill="#383838" text-anchor="middle">3.5</text>
<text x="644.5" y="623.7" font-size="8.8" fill="#383838" text-anchor="middle">5.5</text>
<text x="664.9" y="623.7" font-size="8.8" fill="#383838" text-anchor="middle">7.5</text>
<text x="588.4" y="635.15" font-size="9.4" fill="#383838" text-anchor="middle">mm</text>
<text transform="translate(467.1 538.77) rotate(-90)" font-size="9.4" fill="#383838" text-anchor="middle">Frequency</text>
<text class="cap" x="600.05" y="667.4" font-size="14.65" fill="#111111" text-anchor="middle">(i) BDS-2 B2</text>
</g>
<g id="chart-j">
<line x1="0.5" y1="686.9" x2="0.5" y2="865.4" stroke="#f6f6f6" stroke-width="1"/>
<rect x="84.4" y="824.3" width="10.2" height="17.85" fill="#66a9d8" stroke="#3f76a3" stroke-width="0.55"/>
<rect x="94.6" y="796.71" width="10.2" height="45.44" fill="#66a9d8" stroke="#3f76a3" stroke-width="0.55"/>
<rect x="104.8" y="758.7" width="10.2" height="83.45" fill="#66a9d8" stroke="#3f76a3" stroke-width="0.55"/>
<rect x="115" y="713.59" width="10.2" height="128.56" fill="#66a9d8" stroke="#3f76a3" stroke-width="0.55"/>
<rect x="125.2" y="713.93" width="10.2" height="128.22" fill="#66a9d8" stroke="#3f76a3" stroke-width="0.55"/>
<rect x="135.4" y="722.33" width="10.2" height="119.82" fill="#66a9d8" stroke="#3f76a3" stroke-width="0.55"/>
<rect x="145.6" y="773.5" width="10.2" height="68.65" fill="#66a9d8" stroke="#3f76a3" stroke-width="0.55"/>
<rect x="155.8" y="810.17" width="10.2" height="31.98" fill="#66a9d8" stroke="#3f76a3" stroke-width="0.55"/>
<rect x="166" y="826.68" width="10.2" height="15.47" fill="#66a9d8" stroke="#3f76a3" stroke-width="0.55"/>
<path d="M53.8 842.15v-2.5M53.8 693.4v2.5M74.2 842.15v-2.5M74.2 693.4v2.5M94.6 842.15v-2.5M94.6 693.4v2.5M115 842.15v-2.5M115 693.4v2.5M130.3 842.15v-2.5M130.3 693.4v2.5M145.6 842.15v-2.5M145.6 693.4v2.5M166 842.15v-2.5M166 693.4v2.5M186.4 842.15v-2.5M186.4 693.4v2.5M206.8 842.15v-2.5M206.8 693.4v2.5M35 804.96h2.5M225.6 804.96h-2.5M35 767.77h2.5M225.6 767.77h-2.5M35 730.59h2.5M225.6 730.59h-2.5" stroke="#383838" stroke-width="1.1" fill="none"/>
<rect x="35" y="693.4" width="190.6" height="148.75" fill="none" stroke="#383838" stroke-width="1.15"/>
<text x="31.8" y="845.25" font-size="8.8" fill="#383838" text-anchor="end">0</text>
<text x="31.8" y="808.06" font-size="8.8" fill="#383838" text-anchor="end">500</text>
<text x="31.8" y="770.88" font-size="8.8" fill="#383838" text-anchor="end">1000</text>
<text x="31.8" y="733.69" font-size="8.8" fill="#383838" text-anchor="end">1500</text>
<text x="31.8" y="696.5" font-size="8.8" fill="#383838" text-anchor="end">2000</text>
<text x="53.8" y="852.7" font-size="8.8" fill="#383838" text-anchor="middle">-7.5</text>
<text x="74.2" y="852.7" font-size="8.8" fill="#383838" text-anchor="middle">-5.5</text>
<text x="94.6" y="852.7" font-size="8.8" fill="#383838" text-anchor="middle">-3.5</text>
<text x="115" y="852.7" font-size="8.8" fill="#383838" text-anchor="middle">-1.5</text>
<text x="130.3" y="852.7" font-size="8.8" fill="#383838" text-anchor="middle">0</text>
<text x="145.6" y="852.7" font-size="8.8" fill="#383838" text-anchor="middle">1.5</text>
<text x="166" y="852.7" font-size="8.8" fill="#383838" text-anchor="middle">3.5</text>
<text x="186.4" y="852.7" font-size="8.8" fill="#383838" text-anchor="middle">5.5</text>
<text x="206.8" y="852.7" font-size="8.8" fill="#383838" text-anchor="middle">7.5</text>
<text x="130.3" y="864.15" font-size="9.4" fill="#383838" text-anchor="middle">mm</text>
<text transform="translate(9 767.77) rotate(-90)" font-size="9.4" fill="#383838" text-anchor="middle">Frequency</text>
<text class="cap" x="145.95" y="896.3" font-size="14.65" fill="#111111" text-anchor="middle">(j) BDS-2 B3</text>
</g>
<g id="chart-k">
<line x1="229.65" y1="686.9" x2="229.65" y2="865.4" stroke="#f6f6f6" stroke-width="1"/>
<rect x="293.15" y="827.38" width="10.2" height="14.77" fill="#66a9d8" stroke="#3f76a3" stroke-width="0.55"/>
<rect x="303.35" y="813.89" width="10.2" height="28.26" fill="#66a9d8" stroke="#3f76a3" stroke-width="0.55"/>
<rect x="313.55" y="805.49" width="10.2" height="36.66" fill="#66a9d8" stroke="#3f76a3" stroke-width="0.55"/>
<rect x="323.75" y="773.83" width="10.2" height="68.32" fill="#66a9d8" stroke="#3f76a3" stroke-width="0.55"/>
<rect x="333.95" y="773.83" width="10.2" height="68.32" fill="#66a9d8" stroke="#3f76a3" stroke-width="0.55"/>
<rect x="344.15" y="759.06" width="10.2" height="83.09" fill="#66a9d8" stroke="#3f76a3" stroke-width="0.55"/>
<rect x="354.35" y="721.34" width="10.2" height="120.81" fill="#66a9d8" stroke="#3f76a3" stroke-width="0.55"/>
<rect x="364.55" y="727.4" width="10.2" height="114.75" fill="#66a9d8" stroke="#3f76a3" stroke-width="0.55"/>
<rect x="374.75" y="710.61" width="10.2" height="131.54" fill="#66a9d8" stroke="#3f76a3" stroke-width="0.55"/>
<rect x="384.95" y="725.06" width="10.2" height="117.09" fill="#66a9d8" stroke="#3f76a3" stroke-width="0.55"/>
<rect x="395.15" y="759.38" width="10.2" height="82.77" fill="#66a9d8" stroke="#3f76a3" stroke-width="0.55"/>
<rect x="405.35" y="804.79" width="10.2" height="37.36" fill="#66a9d8" stroke="#3f76a3" stroke-width="0.55"/>
<rect x="415.55" y="821.64" width="10.2" height="20.51" fill="#66a9d8" stroke="#3f76a3" stroke-width="0.55"/>
<path d="M282.95 842.15v-2.5M282.95 693.4v2.5M303.35 842.15v-2.5M303.35 693.4v2.5M323.75 842.15v-2.5M323.75 693.4v2.5M344.15 842.15v-2.5M344.15 693.4v2.5M359.45 842.15v-2.5M359.45 693.4v2.5M374.75 842.15v-2.5M374.75 693.4v2.5M395.15 842.15v-2.5M395.15 693.4v2.5M415.55 842.15v-2.5M415.55 693.4v2.5M435.95 842.15v-2.5M435.95 693.4v2.5M264.15 820.9h2.5M454.75 820.9h-2.5M264.15 799.65h2.5M454.75 799.65h-2.5M264.15 778.4h2.5M454.75 778.4h-2.5M264.15 757.15h2.5M454.75 757.15h-2.5M264.15 735.9h2.5M454.75 735.9h-2.5M264.15 714.65h2.5M454.75 714.65h-2.5" stroke="#383838" stroke-width="1.1" fill="none"/>
<rect x="264.15" y="693.4" width="190.6" height="148.75" fill="none" stroke="#383838" stroke-width="1.15"/>
<text x="260.95" y="845.25" font-size="8.8" fill="#383838" text-anchor="end">0</text>
<text x="260.95" y="824" font-size="8.8" fill="#383838" text-anchor="end">200</text>
<text x="260.95" y="802.75" font-size="8.8" fill="#383838" text-anchor="end">400</text>
<text x="260.95" y="781.5" font-size="8.8" fill="#383838" text-anchor="end">600</text>
<text x="260.95" y="760.25" font-size="8.8" fill="#383838" text-anchor="end">800</text>
<text x="260.95" y="739" font-size="8.8" fill="#383838" text-anchor="end">1000</text>
<text x="260.95" y="717.75" font-size="8.8" fill="#383838" text-anchor="end">1200</text>
<text x="260.95" y="696.5" font-size="8.8" fill="#383838" text-anchor="end">1400</text>
<text x="282.95" y="852.7" font-size="8.8" fill="#383838" text-anchor="middle">-7.5</text>
<text x="303.35" y="852.7" font-size="8.8" fill="#383838" text-anchor="middle">-5.5</text>
<text x="323.75" y="852.7" font-size="8.8" fill="#383838" text-anchor="middle">-3.5</text>
<text x="344.15" y="852.7" font-size="8.8" fill="#383838" text-anchor="middle">-1.5</text>
<text x="359.45" y="852.7" font-size="8.8" fill="#383838" text-anchor="middle">0</text>
<text x="374.75" y="852.7" font-size="8.8" fill="#383838" text-anchor="middle">1.5</text>
<text x="395.15" y="852.7" font-size="8.8" fill="#383838" text-anchor="middle">3.5</text>
<text x="415.55" y="852.7" font-size="8.8" fill="#383838" text-anchor="middle">5.5</text>
<text x="435.95" y="852.7" font-size="8.8" fill="#383838" text-anchor="middle">7.5</text>
<text x="359.45" y="864.15" font-size="9.4" fill="#383838" text-anchor="middle">mm</text>
<text transform="translate(238.15 767.77) rotate(-90)" font-size="9.4" fill="#383838" text-anchor="middle">Frequency</text>
<text class="cap" x="375.35" y="896.1" font-size="14.65" fill="#111111" text-anchor="middle">(k) BDS-3 B1C</text>
</g>
<g id="chart-l">
<line x1="458.6" y1="686.9" x2="458.6" y2="865.4" stroke="#f6f6f6" stroke-width="1"/>
<rect x="532.3" y="832.39" width="10.2" height="9.76" fill="#66a9d8" stroke="#3f76a3" stroke-width="0.55"/>
<rect x="542.5" y="815.55" width="10.2" height="26.6" fill="#66a9d8" stroke="#3f76a3" stroke-width="0.55"/>
<rect x="552.7" y="800.74" width="10.2" height="41.41" fill="#66a9d8" stroke="#3f76a3" stroke-width="0.55"/>
<rect x="562.9" y="773.16" width="10.2" height="68.99" fill="#66a9d8" stroke="#3f76a3" stroke-width="0.55"/>
<rect x="573.1" y="742.55" width="10.2" height="99.6" fill="#66a9d8" stroke="#3f76a3" stroke-width="0.55"/>
<rect x="583.3" y="712.58" width="10.2" height="129.57" fill="#66a9d8" stroke="#3f76a3" stroke-width="0.55"/>
<rect x="593.5" y="731.42" width="10.2" height="110.73" fill="#66a9d8" stroke="#3f76a3" stroke-width="0.55"/>
<rect x="603.7" y="739.87" width="10.2" height="102.28" fill="#66a9d8" stroke="#3f76a3" stroke-width="0.55"/>
<rect x="613.9" y="773.84" width="10.2" height="68.31" fill="#66a9d8" stroke="#3f76a3" stroke-width="0.55"/>
<rect x="624.1" y="795.71" width="10.2" height="46.44" fill="#66a9d8" stroke="#3f76a3" stroke-width="0.55"/>
<rect x="634.3" y="822.63" width="10.2" height="19.52" fill="#66a9d8" stroke="#3f76a3" stroke-width="0.55"/>
<path d="M511.9 842.15v-2.5M511.9 693.4v2.5M532.3 842.15v-2.5M532.3 693.4v2.5M552.7 842.15v-2.5M552.7 693.4v2.5M573.1 842.15v-2.5M573.1 693.4v2.5M588.4 842.15v-2.5M588.4 693.4v2.5M603.7 842.15v-2.5M603.7 693.4v2.5M624.1 842.15v-2.5M624.1 693.4v2.5M644.5 842.15v-2.5M644.5 693.4v2.5M664.9 842.15v-2.5M664.9 693.4v2.5M493.1 812.4h2.5M683.7 812.4h-2.5M493.1 782.65h2.5M683.7 782.65h-2.5M493.1 752.9h2.5M683.7 752.9h-2.5M493.1 723.15h2.5M683.7 723.15h-2.5" stroke="#383838" stroke-width="1.1" fill="none"/>
<rect x="493.1" y="693.4" width="190.6" height="148.75" fill="none" stroke="#383838" stroke-width="1.15"/>
<text x="489.9" y="845.25" font-size="8.8" fill="#383838" text-anchor="end">0</text>
<text x="489.9" y="815.5" font-size="8.8" fill="#383838" text-anchor="end">500</text>
<text x="489.9" y="785.75" font-size="8.8" fill="#383838" text-anchor="end">1000</text>
<text x="489.9" y="756" font-size="8.8" fill="#383838" text-anchor="end">1500</text>
<text x="489.9" y="726.25" font-size="8.8" fill="#383838" text-anchor="end">2000</text>
<text x="489.9" y="696.5" font-size="8.8" fill="#383838" text-anchor="end">2500</text>
<text x="511.9" y="852.7" font-size="8.8" fill="#383838" text-anchor="middle">-7.5</text>
<text x="532.3" y="852.7" font-size="8.8" fill="#383838" text-anchor="middle">-5.5</text>
<text x="552.7" y="852.7" font-size="8.8" fill="#383838" text-anchor="middle">-3.5</text>
<text x="573.1" y="852.7" font-size="8.8" fill="#383838" text-anchor="middle">-1.5</text>
<text x="588.4" y="852.7" font-size="8.8" fill="#383838" text-anchor="middle">0</text>
<text x="603.7" y="852.7" font-size="8.8" fill="#383838" text-anchor="middle">1.5</text>
<text x="624.1" y="852.7" font-size="8.8" fill="#383838" text-anchor="middle">3.5</text>
<text x="644.5" y="852.7" font-size="8.8" fill="#383838" text-anchor="middle">5.5</text>
<text x="664.9" y="852.7" font-size="8.8" fill="#383838" text-anchor="middle">7.5</text>
<text x="588.4" y="864.15" font-size="9.4" fill="#383838" text-anchor="middle">mm</text>
<text transform="translate(467.1 767.77) rotate(-90)" font-size="9.4" fill="#383838" text-anchor="middle">Frequency</text>
<text class="cap" x="603.6" y="896.3" font-size="14.65" fill="#111111" text-anchor="middle">(l) BDS-3 B2a</text>
</g>
<g id="chart-m">
<line x1="229.65" y1="916.9" x2="229.65" y2="1095.4" stroke="#f6f6f6" stroke-width="1"/>
<rect x="313.55" y="1071.13" width="10.2" height="1.02" fill="#66a9d8" stroke="#3f76a3" stroke-width="0.55"/>
<rect x="323.75" y="1043.89" width="10.2" height="28.26" fill="#66a9d8" stroke="#3f76a3" stroke-width="0.55"/>
<rect x="333.95" y="1021.66" width="10.2" height="50.49" fill="#66a9d8" stroke="#3f76a3" stroke-width="0.55"/>
<rect x="344.15" y="978.27" width="10.2" height="93.88" fill="#66a9d8" stroke="#3f76a3" stroke-width="0.55"/>
<rect x="354.35" y="936.19" width="10.2" height="135.96" fill="#66a9d8" stroke="#3f76a3" stroke-width="0.55"/>
<rect x="364.55" y="967.15" width="10.2" height="105" fill="#66a9d8" stroke="#3f76a3" stroke-width="0.55"/>
<rect x="374.75" y="1014.27" width="10.2" height="57.88" fill="#66a9d8" stroke="#3f76a3" stroke-width="0.55"/>
<rect x="384.95" y="1028.42" width="10.2" height="43.73" fill="#66a9d8" stroke="#3f76a3" stroke-width="0.55"/>
<rect x="395.15" y="1070.8" width="10.2" height="1.35" fill="#66a9d8" stroke="#3f76a3" stroke-width="0.55"/>
<path d="M282.95 1072.15v-2.5M282.95 923.4v2.5M303.35 1072.15v-2.5M303.35 923.4v2.5M323.75 1072.15v-2.5M323.75 923.4v2.5M344.15 1072.15v-2.5M344.15 923.4v2.5M359.45 1072.15v-2.5M359.45 923.4v2.5M374.75 1072.15v-2.5M374.75 923.4v2.5M395.15 1072.15v-2.5M395.15 923.4v2.5M415.55 1072.15v-2.5M415.55 923.4v2.5M435.95 1072.15v-2.5M435.95 923.4v2.5M264.15 1050.9h2.5M454.75 1050.9h-2.5M264.15 1029.65h2.5M454.75 1029.65h-2.5M264.15 1008.4h2.5M454.75 1008.4h-2.5M264.15 987.15h2.5M454.75 987.15h-2.5M264.15 965.9h2.5M454.75 965.9h-2.5M264.15 944.65h2.5M454.75 944.65h-2.5" stroke="#383838" stroke-width="1.1" fill="none"/>
<rect x="264.15" y="923.4" width="190.6" height="148.75" fill="none" stroke="#383838" stroke-width="1.15"/>
<text x="260.95" y="1075.25" font-size="8.8" fill="#383838" text-anchor="end">0</text>
<text x="260.95" y="1054" font-size="8.8" fill="#383838" text-anchor="end">500</text>
<text x="260.95" y="1032.75" font-size="8.8" fill="#383838" text-anchor="end">1000</text>
<text x="260.95" y="1011.5" font-size="8.8" fill="#383838" text-anchor="end">1500</text>
<text x="260.95" y="990.25" font-size="8.8" fill="#383838" text-anchor="end">2000</text>
<text x="260.95" y="969" font-size="8.8" fill="#383838" text-anchor="end">2500</text>
<text x="260.95" y="947.75" font-size="8.8" fill="#383838" text-anchor="end">3000</text>
<text x="260.95" y="926.5" font-size="8.8" fill="#383838" text-anchor="end">3500</text>
<text x="282.95" y="1082.7" font-size="8.8" fill="#383838" text-anchor="middle">-7.5</text>
<text x="303.35" y="1082.7" font-size="8.8" fill="#383838" text-anchor="middle">-5.5</text>
<text x="323.75" y="1082.7" font-size="8.8" fill="#383838" text-anchor="middle">-3.5</text>
<text x="344.15" y="1082.7" font-size="8.8" fill="#383838" text-anchor="middle">-1.5</text>
<text x="359.45" y="1082.7" font-size="8.8" fill="#383838" text-anchor="middle">0</text>
<text x="374.75" y="1082.7" font-size="8.8" fill="#383838" text-anchor="middle">1.5</text>
<text x="395.15" y="1082.7" font-size="8.8" fill="#383838" text-anchor="middle">3.5</text>
<text x="415.55" y="1082.7" font-size="8.8" fill="#383838" text-anchor="middle">5.5</text>
<text x="435.95" y="1082.7" font-size="8.8" fill="#383838" text-anchor="middle">7.5</text>
<text x="359.45" y="1094.15" font-size="9.4" fill="#383838" text-anchor="middle">mm</text>
<text transform="translate(238.15 997.77) rotate(-90)" font-size="9.4" fill="#383838" text-anchor="middle">Frequency</text>
<text class="cap" x="370.45" y="1125.8" font-size="14.65" fill="#111111" text-anchor="middle">(m) BDS-3 B3I</text>
</g>
</svg>
</body></html>
